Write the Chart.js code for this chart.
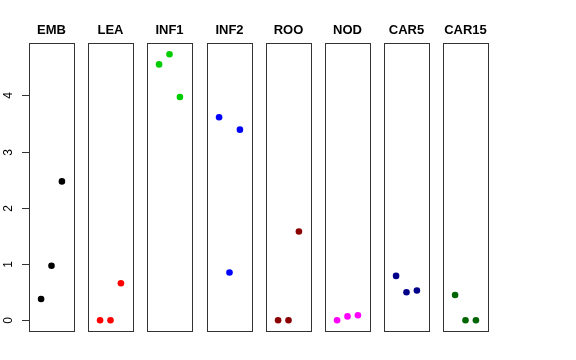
<!DOCTYPE html>
<html>
<head>
<meta charset="utf-8">
<script src="https://cdn.jsdelivr.net/npm/chart.js@4.4.1/dist/chart.umd.min.js"></script>
<style>
  html, body { margin: 0; padding: 0; background: #fff; }
  #wrap { position: relative; width: 576px; height: 360px; overflow: hidden; }
  #wrap canvas { position: absolute; top: 0; }
</style>
</head>
<body>
<div id="wrap"></div>
<script>
// Strip charts, one panel per tissue, three replicates each
const groups = ['EMB', 'LEA', 'INF1', 'INF2', 'ROO', 'NOD', 'CAR5', 'CAR15'];
const colors = ['#000000', '#ff0000', '#00cd00', '#0000ff', '#8b0000', '#ff00ff', '#00008b', '#006400'];
const replicates = [1, 2, 3];

const EMB   = [0.38, 0.97, 2.47];
const LEA   = [0.00, 0.00, 0.66];
const INF1  = [4.55, 4.73, 3.97];
const INF2  = [3.61, 0.85, 3.39];
const ROO   = [0.00, 0.00, 1.58];
const NOD   = [0.00, 0.07, 0.09];
const CAR5  = [0.79, 0.50, 0.53];
const CAR15 = [0.45, 0.00, 0.00];
const seriesValues = [EMB, LEA, INF1, INF2, ROO, NOD, CAR5, CAR15];

const yTicks = [0, 1, 2, 3, 4];

const panelLeft0 = 29, panelStep = 59.2, panelWidth = 44.6;
const padSide = 7;

// frame, title and (first panel only) the y axis
const panelDecor = {
  id: 'panelDecor',
  afterDraw(chart) {
    const { ctx, chartArea: a, scales: { y } } = chart;
    const o = chart.options.plugins.panelDecor;
    ctx.save();
    ctx.strokeStyle = '#333';
    ctx.lineWidth = 1;
    ctx.strokeRect(Math.round(a.left) + 0.5, Math.round(a.top) + 0.5,
      Math.round(a.right - a.left), Math.round(a.bottom - a.top));

    ctx.fillStyle = '#000';
    ctx.font = 'bold 13px "Liberation Sans", Arial, sans-serif';
    ctx.textAlign = 'center';
    ctx.textBaseline = 'alphabetic';
    ctx.fillText(o.title, (a.left + a.right) / 2, 34);

    if (o.axis) {
      ctx.font = '12px "Liberation Sans", Arial, sans-serif';
      for (const t of yTicks) {
        const py = Math.round(y.getPixelForValue(t)) + 0.5;
        ctx.beginPath();
        ctx.moveTo(a.left - 7, py);
        ctx.lineTo(a.left, py);
        ctx.stroke();
        ctx.save();
        ctx.translate(9, py);
        ctx.rotate(-Math.PI / 2);
        ctx.textAlign = 'center';
        ctx.textBaseline = 'middle';
        ctx.fillText(String(t), 0, 0);
        ctx.restore();
      }
    }
    ctx.restore();
  }
};

const wrap = document.getElementById('wrap');
groups.forEach(function (name, i) {
  const left = panelLeft0 + i * panelStep;
  const padL = i === 0 ? left : padSide;
  const cv = document.createElement('canvas');
  const w = Math.round(padL + panelWidth + padSide);
  cv.style.left = Math.round(left - padL) + 'px';
  cv.style.width = w + 'px';
  cv.style.height = '360px';
  cv.width = w;
  cv.height = 360;
  wrap.appendChild(cv);

  const pts = replicates.map((r, k) => ({ x: r, y: seriesValues[i][k] }));

  new Chart(cv, {
    type: 'scatter',
    data: {
      datasets: [{
        label: name,
        data: pts,
        backgroundColor: colors[i],
        borderColor: colors[i],
        pointRadius: 3.3,
        borderWidth: 0
      }]
    },
    options: {
      responsive: false,
      animation: false,
      layout: { padding: { left: padL, right: padSide, top: 43, bottom: 29 } },
      scales: {
        x: { display: false, min: -0.16, max: 4.16 },
        y: { display: false, min: -0.19, max: 4.93 }
      },
      plugins: {
        legend: { display: false },
        tooltip: { enabled: false },
        panelDecor: { title: name, axis: i === 0 }
      }
    },
    plugins: [panelDecor]
  });
});
</script>
</body>
</html>
